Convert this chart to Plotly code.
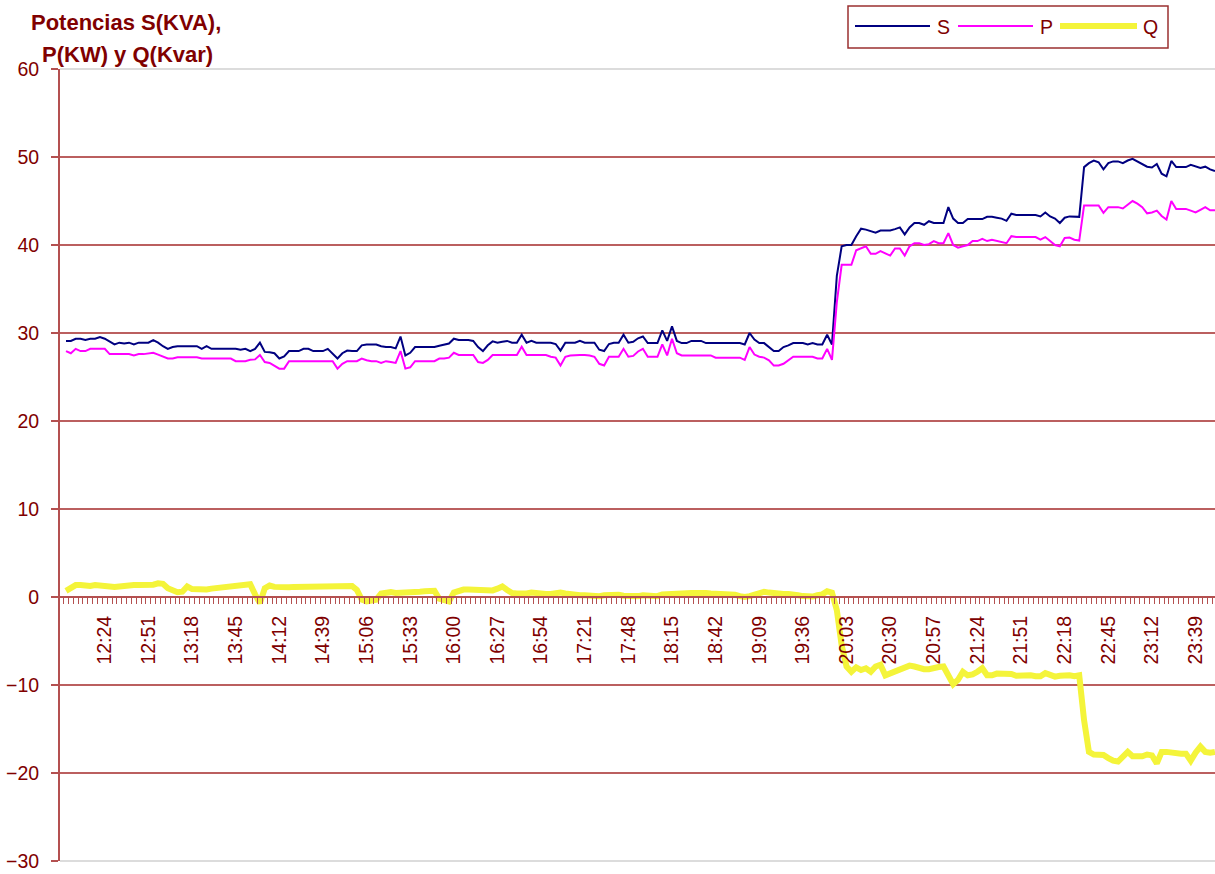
import plotly.graph_objects as go

# ---------------- data ----------------
start_time = "12:00"
step_minutes = 3
n_points = 238
sh, sm = map(int, start_time.split(":"))
times = [f"{(sh*60 + sm + step_minutes*i)//60:02d}:{(sh*60 + sm + step_minutes*i)%60:02d}" for i in range(n_points)]

tick_labels = ["12:24", "12:51", "13:18", "13:45", "14:12", "14:39", "15:06", "15:33",
               "16:00", "16:27", "16:54", "17:21", "17:48", "18:15", "18:42", "19:09",
               "19:36", "20:03", "20:30", "20:57", "21:24", "21:51", "22:18", "22:45",
               "23:12", "23:39"]

S_kva = [
    29.1, 29.1, 29.35, 29.35, 29.2, 29.35, 29.35, 29.55, 29.35, 29.0,
    28.7, 28.9, 28.8, 28.9, 28.7, 28.9, 28.9, 28.9, 29.2, 28.9,
    28.5, 28.2, 28.4, 28.5, 28.5, 28.5, 28.5, 28.5, 28.2, 28.5,
    28.2, 28.2, 28.2, 28.2, 28.2, 28.2, 28.1, 28.2, 27.95, 28.2,
    28.9, 27.85, 27.8, 27.7, 27.1, 27.35, 27.95, 27.95, 27.95, 28.2,
    28.2, 27.95, 27.95, 27.95, 28.2, 27.65, 27.1, 27.7, 28.0, 27.95,
    27.95, 28.6, 28.7, 28.7, 28.7, 28.5, 28.4, 28.4, 28.25, 29.6,
    27.45, 27.75, 28.4, 28.4, 28.4, 28.4, 28.4, 28.55, 28.7, 28.8,
    29.35, 29.2, 29.2, 29.2, 29.1, 28.4, 27.95, 28.6, 29.05, 28.9,
    29.0, 29.1, 28.9, 28.9, 29.8, 28.9, 29.1, 28.9, 28.9, 28.9,
    28.9, 28.75, 28.0, 28.9, 28.9, 28.9, 29.1, 28.9, 28.9, 28.9,
    28.1, 27.95, 28.75, 28.9, 28.9, 29.8, 28.9, 29.0, 29.4, 29.6,
    28.85, 28.85, 28.85, 30.3, 29.1, 30.75, 29.1, 28.85, 28.85, 29.1,
    29.1, 29.1, 28.85, 28.85, 28.85, 28.85, 28.85, 28.85, 28.85, 28.85,
    28.7, 30.0, 29.25, 28.85, 28.85, 28.4, 27.95, 27.95, 28.4, 28.6,
    28.85, 28.85, 28.85, 28.7, 28.85, 28.7, 28.7, 29.8, 28.7, 36.5,
    39.85, 40.0, 40.0, 41.0, 41.85, 41.75, 41.6, 41.4, 41.65, 41.65,
    41.65, 41.8, 42.0, 41.2, 42.0, 42.5, 42.5, 42.3, 42.7, 42.5,
    42.5, 42.5, 44.3, 43.0, 42.5, 42.5, 42.95, 42.95, 42.95, 42.95,
    43.2, 43.2, 43.1, 43.0, 42.75, 43.55, 43.4, 43.4, 43.4, 43.4,
    43.4, 43.25, 43.7, 43.25, 43.0, 42.5, 43.1, 43.25, 43.2, 43.2,
    48.85, 49.3, 49.6, 49.4, 48.6, 49.3, 49.5, 49.5, 49.3, 49.6,
    49.8, 49.5, 49.2, 48.9, 48.8, 49.2, 48.1, 47.8, 49.55, 48.85,
    48.85, 48.85, 49.1, 48.95, 48.75, 48.9, 48.6, 48.4,
]

P_kw = [
    27.95, 27.7, 28.2, 27.95, 27.95, 28.2, 28.2, 28.2, 28.2, 27.6,
    27.6, 27.6, 27.6, 27.6, 27.45, 27.6, 27.6, 27.65, 27.75, 27.55,
    27.35, 27.1, 27.1, 27.25, 27.25, 27.25, 27.25, 27.25, 27.1, 27.1,
    27.1, 27.1, 27.1, 27.1, 27.1, 26.8, 26.8, 26.8, 26.95, 27.0,
    27.5, 26.7, 26.6, 26.3, 25.95, 25.95, 26.8, 26.8, 26.8, 26.8,
    26.8, 26.8, 26.8, 26.8, 26.8, 26.8, 25.95, 26.5, 26.8, 26.8,
    26.8, 27.1, 26.9, 26.8, 26.8, 26.6, 26.8, 26.7, 26.6, 27.95,
    25.95, 26.1, 26.8, 26.8, 26.8, 26.8, 26.8, 27.1, 27.1, 27.2,
    27.75, 27.5, 27.5, 27.5, 27.5, 26.7, 26.6, 26.95, 27.5, 27.5,
    27.5, 27.5, 27.5, 27.5, 28.45, 27.5, 27.5, 27.5, 27.5, 27.5,
    27.3, 27.2, 26.3, 27.3, 27.45, 27.5, 27.5, 27.5, 27.45, 27.3,
    26.5, 26.3, 27.3, 27.3, 27.3, 28.2, 27.3, 27.4, 27.9, 28.2,
    27.3, 27.3, 27.3, 28.7, 27.45, 29.35, 27.7, 27.45, 27.45, 27.45,
    27.45, 27.45, 27.45, 27.45, 27.2, 27.2, 27.2, 27.2, 27.2, 27.2,
    26.95, 28.4, 27.55, 27.3, 27.2, 26.9, 26.3, 26.3, 26.5, 26.9,
    27.3, 27.3, 27.3, 27.3, 27.3, 27.1, 27.1, 28.2, 26.95, 33.5,
    37.75, 37.75, 37.75, 39.4, 39.6, 39.85, 39.0, 39.0, 39.3, 39.05,
    38.8, 39.6, 39.6, 38.8, 39.85, 40.2, 40.2, 40.0, 40.1, 40.45,
    40.2, 40.2, 41.35, 40.0, 39.7, 39.85, 40.0, 40.45, 40.45, 40.7,
    40.45, 40.6, 40.45, 40.3, 40.2, 41.0, 40.9, 40.9, 40.9, 40.9,
    40.9, 40.6, 40.9, 40.45, 40.0, 39.85, 40.8, 40.85, 40.6, 40.5,
    44.5, 44.5, 44.5, 44.5, 43.65, 44.3, 44.3, 44.3, 44.15, 44.6,
    45.0, 44.7, 44.3, 43.6, 43.7, 43.9, 43.3, 42.9, 45.0, 44.1,
    44.1, 44.1, 43.9, 43.7, 44.0, 44.3, 43.95, 43.95,
]

Q_kvar = [
    0.7, 1.1, 1.35, 1.35, 1.25, 1.25, 1.35, 1.3, 1.15, 1.15,
    1.15, 1.2, 1.3, 1.35, 1.35, 1.35, 1.35, 1.35, 1.4, 1.55,
    1.5, 1.0, 0.75, 0.55, 0.6, 1.2, 0.9, 0.85, 0.85, 0.85,
    0.95, 1.0, 1.05, 1.1, 1.2, 1.25, 1.3, 1.35, 1.45, 0.3,
    -0.7, 1.0, 1.3, 1.15, 1.1, 1.1, 1.1, 1.15, 1.15, 1.2,
    1.25, 1.25, 1.25, 1.25, 1.25, 1.25, 1.25, 1.25, 1.25, 1.25,
    0.8, -0.3, -0.5, -0.4, -0.3, 0.4, 0.55, 0.55, 0.45, 0.45,
    0.5, 0.5, 0.6, 0.6, 0.65, 0.7, 0.7, -0.2, -0.4, -0.5,
    0.5, 0.75, 0.85, 0.85, 0.85, 0.85, 0.85, 0.75, 0.75, 0.95,
    1.2, 0.8, 0.45, 0.4, 0.35, 0.4, 0.5, 0.4, 0.35, 0.35,
    0.35, 0.45, 0.5, 0.4, 0.3, 0.2, 0.2, 0.2, 0.15, 0.1,
    0.1, 0.2, 0.25, 0.35, 0.25, 0.15, 0.1, 0.1, 0.1, 0.2,
    0.2, 0.15, 0.1, 0.3, 0.35, 0.4, 0.4, 0.4, 0.4, 0.45,
    0.45, 0.5, 0.45, 0.4, 0.4, 0.4, 0.4, 0.4, 0.25, 0.1,
    0.0, 0.1, 0.25, 0.5, 0.6, 0.5, 0.4, 0.35, 0.35, 0.35,
    0.35, 0.2, 0.1, 0.05, 0.05, 0.2, 0.3, 0.65, 0.5, -1.5,
    -5.5, -7.9, -8.5, -8.0, -8.3, -8.1, -8.5, -7.9, -7.7, -8.9,
    -8.7, -8.5, -8.3, -8.0, -7.8, -7.9, -8.1, -8.2, -8.2, -8.0,
    -7.95, -7.9, -8.9, -9.9, -9.4, -8.5, -8.9, -8.8, -8.5, -8.1,
    -8.9, -8.9, -8.7, -8.7, -8.75, -8.75, -8.95, -8.9, -8.85, -8.9,
    -9.0, -9.0, -8.65, -8.9, -9.05, -8.95, -8.9, -8.9, -9.0, -8.9,
    -14.0, -17.6, -17.9, -17.95, -17.95, -18.3, -18.6, -18.7, -18.2, -17.6,
    -18.1, -18.1, -18.1, -17.9, -18.0, -18.9, -17.6, -17.6, -17.7, -17.7,
    -17.8, -17.8, -18.6, -17.7, -17.0, -17.6, -17.7, -17.6,
]

assert len(S_kva) == len(P_kw) == len(Q_kvar) == len(times)

# ---------------- styling ----------------
DARK_RED = "#800000"
AXIS_RED = "#B45050"
GRID_RED = "#BB5F5F"
FONT = "Liberation Sans, Arial, sans-serif"
TICK_SIZE = 19.5
S_COLOR = "#000080"
P_COLOR = "#FF00FF"
Q_COLOR = "#F4F43A"


def to_min(t):
    h, m = t.split(":")
    return int(h) * 60 + int(m)


x_min = [to_min(t) for t in times]

fig = go.Figure()
fig.add_trace(go.Scatter(x=x_min, y=S_kva, name="S", mode="lines",
                         line=dict(color=S_COLOR, width=2)))
fig.add_trace(go.Scatter(x=x_min, y=P_kw, name="P", mode="lines",
                         line=dict(color=P_COLOR, width=2)))
fig.add_trace(go.Scatter(x=x_min, y=Q_kvar, name="Q", mode="lines",
                         line=dict(color=Q_COLOR, width=6)))

# plot-area pixel helpers for decorations outside the plot (legend / title)
L, R, T, B = 60, 0, 69, 13
W, H = 1215, 874
pw, ph = W - L - R, H - T - B


def px_x(px):
    return (px - L) / pw


def px_y(py):
    return 1 + (T - py) / ph


step_px = 4.848
x0 = x_min[0] - (66 - L) / step_px * step_minutes
x1 = x0 + pw / step_px * step_minutes

fig.update_layout(
    width=W, height=H,
    margin=dict(l=L, r=R, t=T, b=B),
    paper_bgcolor="white", plot_bgcolor="white",
    showlegend=False,
    font=dict(family=FONT, color=DARK_RED),
    xaxis=dict(
        range=[x0, x1], anchor="free", position=1/3,
        showline=True, linecolor=AXIS_RED, linewidth=2,
        showgrid=False, zeroline=False,
        tickmode="array", tickvals=[to_min(t) for t in tick_labels], ticktext=tick_labels,
        ticks="", tickangle=-90, ticklabelstandoff=10,
        tickfont=dict(family=FONT, size=TICK_SIZE, color=DARK_RED),
        minor=dict(ticks="outside", ticklen=6, tickcolor=AXIS_RED, tickwidth=1,
                   tickmode="linear", tick0=x_min[0] - step_minutes / 2, dtick=step_minutes,
                   showgrid=False),
    ),
    yaxis=dict(
        range=[-30, 60], tickmode="linear", tick0=-30, dtick=10,
        showgrid=True, gridcolor=GRID_RED, gridwidth=2, zeroline=False,
        showline=True, linecolor=AXIS_RED, linewidth=2,
        ticks="outside", ticklen=7, tickcolor=AXIS_RED, tickwidth=2,
        ticklabelstandoff=8,
        tickfont=dict(family=FONT, size=TICK_SIZE, color=DARK_RED),
    ),
)

shapes = [
    # light plot-area border lines at top and bottom
    dict(type="line", xref="paper", yref="paper", x0=0, x1=1, y0=1, y1=1,
         line=dict(color="#DCDCDC", width=2)),
    dict(type="line", xref="paper", yref="paper", x0=0, x1=1, y0=0, y1=0,
         line=dict(color="#DCDCDC", width=2)),
    # legend frame
    dict(type="rect", xref="paper", yref="paper",
         x0=px_x(848), x1=px_x(1168), y0=px_y(48), y1=px_y(6),
         line=dict(color="#9B3030", width=1.5), fillcolor="white"),
]
legend_items = [("S", S_COLOR, 2, 855, 930, 943),
                ("P", P_COLOR, 2, 958, 1033, 1046),
                ("Q", Q_COLOR, 6, 1060, 1137, 1150)]
annotations = []
for name, col, w, lx0, lx1, tx in legend_items:
    shapes.append(dict(type="line", xref="paper", yref="paper",
                       x0=px_x(lx0), x1=px_x(lx1), y0=px_y(26), y1=px_y(26),
                       line=dict(color=col, width=w)))
    annotations.append(dict(text=name, xref="paper", yref="paper", x=px_x(tx), y=px_y(27),
                            xanchor="center", yanchor="middle", showarrow=False,
                            font=dict(family=FONT, size=TICK_SIZE, color=DARK_RED)))

annotations.append(dict(text="<b>Potencias S(KVA),</b>", xref="paper", yref="paper",
                        x=px_x(126), y=px_y(23), xanchor="center", yanchor="middle",
                        showarrow=False, font=dict(family=FONT, size=22, color=DARK_RED)))
annotations.append(dict(text="<b>P(KW) y Q(Kvar)</b>", xref="paper", yref="paper",
                        x=px_x(127), y=px_y(55), xanchor="center", yanchor="middle",
                        showarrow=False, font=dict(family=FONT, size=22, color=DARK_RED)))

fig.update_layout(shapes=shapes, annotations=annotations)

fig.write_html("out.html", config={"displayModeBar": False},
               post_script="document.body.style.margin='0';")
